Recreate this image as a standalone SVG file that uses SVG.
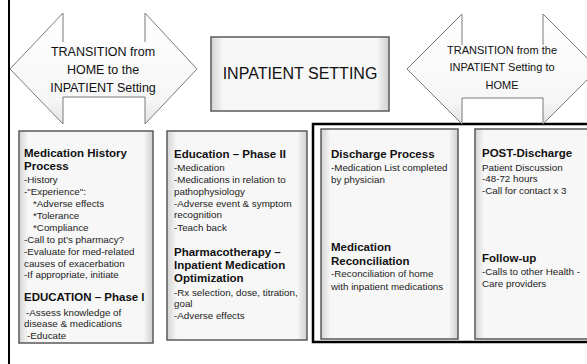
<svg xmlns="http://www.w3.org/2000/svg" width="587" height="364" viewBox="0 0 587 364">
<defs>
<linearGradient id="boxH" x1="0" y1="0" x2="1" y2="0">
<stop offset="0" stop-color="#d4d4d4"/>
<stop offset="0.07" stop-color="#f7f7f7"/>
<stop offset="0.93" stop-color="#f7f7f7"/>
<stop offset="1" stop-color="#cfcfcf"/>
</linearGradient>
<linearGradient id="arrowG" x1="0" y1="0" x2="0" y2="1">
<stop offset="0" stop-color="#ffffff"/>
<stop offset="0.8" stop-color="#f6f6f6"/>
<stop offset="1" stop-color="#e2e2e2"/>
</linearGradient>
</defs>
<style>
.box{fill:url(#boxH);stroke:#5a5a5a;stroke-width:1.5}
.arrow{fill:url(#arrowG);stroke:none}
.edge{fill:none;stroke:#7a7a7a;stroke-width:1}
.h{font-family:"Liberation Sans",Arial,sans-serif;font-weight:bold;font-size:11.5px;fill:#111}
.t{font-family:"Liberation Sans",Arial,sans-serif;font-size:9.8px;fill:#222}
.a{font-family:"Liberation Sans",Arial,sans-serif;font-size:12.5px;fill:#111;text-anchor:middle}
.c{font-family:"Liberation Sans",Arial,sans-serif;font-size:11px;fill:#111;text-anchor:middle}
.m{font-family:"Liberation Sans",Arial,sans-serif;font-size:16px;fill:#111;text-anchor:middle}
</style>
<rect width="587" height="364" fill="#ffffff"/>
<g id="frame">
<line x1="9" y1="0" x2="9" y2="364" stroke="#000" stroke-width="2"/>
<rect x="313" y="124" width="290" height="218" fill="none" stroke="#000" stroke-width="2.5"/>
</g>
<g id="arrow-home-to-inpatient">
<polygon class="arrow" points="10,69 63,13 63,42 145,42 145,13 197,69 145,124 145,97 63,97 63,124"/>
<path class="edge" d="M63,42 V13 L10,69 L63,124 V97 H145 V124 L197,69 L145,13 V42"/>
<text class="a" x="103" y="56">TRANSITION from</text>
<text class="a" x="103" y="74">HOME to the</text>
<text class="a" x="103" y="92">INPATIENT Setting</text>
</g>
<g id="inpatient-setting">
<rect class="box" x="211" y="37" width="178" height="74"/>
<text class="m" x="300" y="79">INPATIENT SETTING</text>
</g>
<g id="arrow-inpatient-to-home">
<polygon class="arrow" points="407,69 462,14 462,45 543,45 543,14 598,69 543,124 543,98 462,98 462,124"/>
<path class="edge" d="M462,45 V14 L407,69 L462,124 V98 H543 V124 L598,69 L543,14 V45"/>
<text class="c" x="502" y="54">TRANSITION from the</text>
<text class="c" x="502" y="71">INPATIENT Setting to</text>
<text class="c" x="502" y="89">HOME</text>
</g>
<g id="medication-history">
<rect class="box" x="19" y="131" width="134" height="212"/>
<text class="h" x="24" y="157">Medication History</text>
<text class="h" x="24" y="170">Process</text>
<text class="t" x="24" y="183">-History</text>
<text class="t" x="24" y="195">-"Experience":</text>
<text class="t" x="33" y="207">*Adverse effects</text>
<text class="t" x="33" y="219">*Tolerance</text>
<text class="t" x="33" y="231">*Compliance</text>
<text class="t" x="24" y="243">-Call to pt’s pharmacy?</text>
<text class="t" x="24" y="255">-Evaluate for med-related</text>
<text class="t" x="24" y="267">causes of exacerbation</text>
<text class="t" x="24" y="278">-If appropriate, initiate</text>
<text class="h" x="24" y="301">EDUCATION – Phase I</text>
<text class="t" x="26" y="316">-Assess knowledge of</text>
<text class="t" x="24" y="327">disease &amp; medications</text>
<text class="t" x="27" y="339">-Educate</text>
</g>
<g id="education-phase-2">
<rect class="box" x="167" y="131" width="140" height="209"/>
<text class="h" x="174" y="158">Education – Phase II</text>
<text class="t" x="174" y="171">-Medication</text>
<text class="t" x="174" y="183">-Medications in relation to</text>
<text class="t" x="174" y="195">pathophysiology</text>
<text class="t" x="174" y="207">-Adverse event &amp; symptom</text>
<text class="t" x="174" y="218">recognition</text>
<text class="t" x="174" y="231">-Teach back</text>
<text class="h" x="174" y="256">Pharmacotherapy –</text>
<text class="h" x="174" y="269">Inpatient Medication</text>
<text class="h" x="174" y="282">Optimization</text>
<text class="t" x="174" y="296">-Rx selection, dose, titration,</text>
<text class="t" x="174" y="307">goal</text>
<text class="t" x="174" y="319">-Adverse effects</text>
</g>
<g id="discharge">
<rect class="box" x="321" y="129" width="137" height="210"/>
<text class="h" x="331" y="158">Discharge Process</text>
<text class="t" x="331" y="171">-Medication List completed</text>
<text class="t" x="331" y="183">by physician</text>
<text class="h" x="331" y="251">Medication</text>
<text class="h" x="331" y="265">Reconciliation</text>
<text class="t" x="331" y="277">-Reconciliation of home</text>
<text class="t" x="331" y="290">with inpatient medications</text>
</g>
<g id="post-discharge">
<rect class="box" x="475" y="129" width="130" height="210"/>
<text class="h" x="482" y="157">POST-Discharge</text>
<text class="t" x="482" y="171">Patient Discussion</text>
<text class="t" x="482" y="182">-48-72 hours</text>
<text class="t" x="482" y="194">-Call for contact x 3</text>
<text class="h" x="482" y="262">Follow-up</text>
<text class="t" x="482" y="275">-Calls to other Health -</text>
<text class="t" x="482" y="287">Care providers</text>
</g>
</svg>
